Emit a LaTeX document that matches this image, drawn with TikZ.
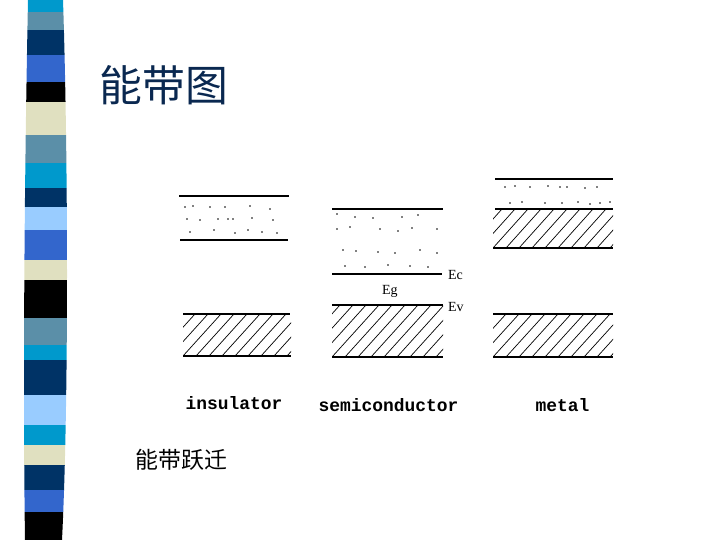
\documentclass[tikz,border=0pt]{standalone}
\usepackage{fontspec}
\setmainfont{Liberation Serif}
\newfontfamily\cjk{Noto Sans CJK SC}
\newfontfamily\monolabel{Liberation Mono}
\definecolor{stripecyan}{RGB}{0,153,204}
\definecolor{stripesteel}{RGB}{91,143,168}
\definecolor{stripenavy}{RGB}{0,51,102}
\definecolor{stripeblue}{RGB}{51,102,204}
\definecolor{stripecream}{RGB}{224,224,192}
\definecolor{stripelight}{RGB}{153,204,255}
\definecolor{titleblue}{RGB}{10,40,80}
\begin{document}
\begin{tikzpicture}[
                x=1bp, y=-1bp,
                bandline/.style={
                    line width=1.1bp,
                    black
                },
                hatchline/.style={
                    line width=0.7bp,
                    black
                },
                dotfill/.style={
                    fill=black
                },
                material/.style={
                    font=\monolabel\bfseries\fontsize{18}{20}\selectfont,
                    anchor=base west
                },
                levellabel/.style={
                    font=\fontsize{14}{16}\selectfont,
                    anchor=west,
                    inner sep=0pt
                }
            ]
    \useasboundingbox (0,0) rectangle (720,540);

    % left stripe bar
    \begin{scope}
        \clip (28,0) .. controls (24,200) and (23,400) .. (25,540) -- (62,540)
              .. controls (69,400) and (68,150) .. (63,0) -- cycle;
        \foreach \ya/\yb/\col in {0/12/stripecyan, 12/30/stripesteel, 30/55/stripenavy,
                55/82/stripeblue, 82/102/black, 102/135/stripecream, 135/163/stripesteel,
                163/188/stripecyan, 188/207/stripenavy, 207/230/stripelight,
                230/260/stripeblue, 260/280/stripecream, 280/318/black,
                318/345/stripesteel, 345/360/stripecyan, 360/395/stripenavy,
                395/425/stripelight, 425/445/stripecyan, 445/465/stripecream,
                465/490/stripenavy, 490/512/stripeblue, 512/540/black}
            \fill[\col] (0,\ya) rectangle (80,\yb);
    \end{scope}

    % titles
    \node[font=\cjk\fontsize{43}{46}\selectfont, text=titleblue, anchor=west] (title) at (96,85) {能带图};
    \node[font=\cjk\fontsize{23}{26}\selectfont, anchor=west] (transition) at (132,460) {能带跃迁};

    % insulator
    \draw[bandline] (179,196) -- (289,196);
    \draw[bandline] (180,240) -- (288,240);
    \foreach \px/\py in {185/207, 193/206, 210/207, 225/207, 250/206, 270/209,
            187/219, 200/220, 218/219, 228/219, 233/219, 252/218, 273/220,
            190/232, 214/230, 235/233, 248/230, 262/232, 277/233}
        \fill[dotfill] (\px,\py) circle (0.9);
    \draw[bandline] (183,314) -- (290,314);
    \draw[bandline] (183,356) -- (291,356);
    \begin{scope}
        \clip (183,314) rectangle (291,356);
        \foreach \s in {-39,-26,...,117}
            \draw[hatchline] (183+\s,356) -- ++(38,-42);
    \end{scope}
    \node[material] (insulator) at (182,409) {insulator};

    % semiconductor
    \draw[bandline] (332,209) -- (443,209);
    \foreach \px/\py in {337/214, 355/217, 373/218, 402/217, 418/215,
            337/229, 350/227, 380/229, 398/231, 412/228, 437/229,
            343/250, 356/251, 378/252, 395/253, 420/250, 437/253,
            345/266, 365/267, 388/265, 410/266, 428/267}
        \fill[dotfill] (\px,\py) circle (0.8);
    \draw[bandline] (332,274) -- (442,274);
    \node[levellabel] (ec) at (448,275) {Ec};
    \node[levellabel] (eg) at (382,291) {Eg};
    \draw[line width=2bp] (332,305) -- (443,305);
    \node[levellabel] (ev) at (448,307) {Ev};
    \draw[bandline] (332,357) -- (443,357);
    \begin{scope}
        \clip (332,305) rectangle (443,357);
        \foreach \s in {-52,-39,...,117}
            \draw[hatchline] (332+\s,357) -- ++(47,-52);
    \end{scope}
    \node[material] (semiconductor) at (315,411) {semiconductor};

    % metal
    \draw[bandline] (495,179) -- (613,179);
    \foreach \px/\py in {505/187, 515/186, 530/187, 548/186, 560/187, 567/187, 585/188, 597/187,
            510/203, 522/202, 545/203, 562/203, 578/202, 590/204, 600/203, 610/202}
        \fill[dotfill] (\px,\py) circle (0.9);
    \draw[bandline] (495,209) -- (613,209);
    \draw[bandline] (493,248) -- (613,248);
    \begin{scope}
        \clip (493,209) rectangle (613,248);
        \foreach \s in {-39,-26,...,130}
            \draw[hatchline] (493+\s,248) -- ++(35,-39);
    \end{scope}
    \draw[bandline] (493,314) -- (613,314);
    \draw[bandline] (493,357) -- (613,357);
    \begin{scope}
        \clip (493,314) rectangle (613,357);
        \foreach \s in {-39,-26,...,130}
            \draw[hatchline] (493+\s,357) -- ++(39,-43);
    \end{scope}
    \node[material] (metal) at (532,411) {metal};
\end{tikzpicture}
\end{document}
